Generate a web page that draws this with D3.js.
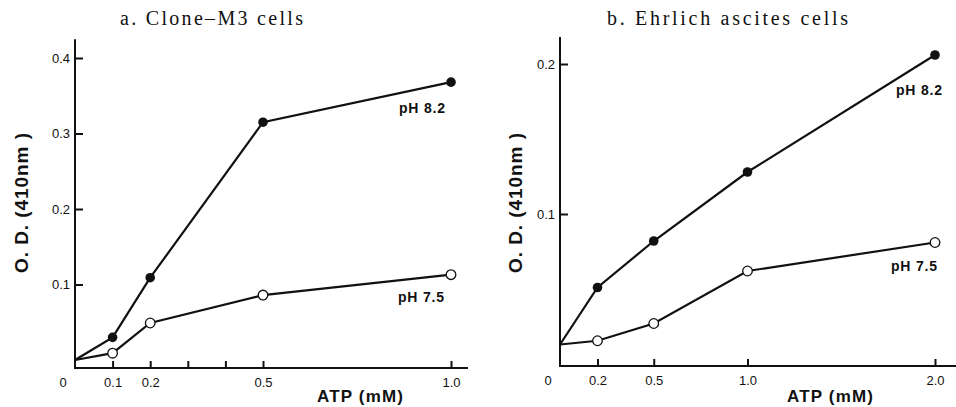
<!DOCTYPE html>
<html>
<head>
<meta charset="utf-8">
<script src="https://cdn.jsdelivr.net/npm/d3@7"></script>
<style>
  body { margin: 0; background: #fff; }
  svg { display: block; }
  .tick text { font-family: "Liberation Sans", Arial, sans-serif; font-size: 13px; fill: #111; }
</style>
</head>
<body>
<div class="d3graph"></div>
<script>
// panel a: Clone-M3 cells
var atpA = [0, 0.1, 0.2, 0.5, 1.0];
var ph82A = [0, 0.030, 0.109, 0.315, 0.368];
var ph75A = [0, 0.009, 0.049, 0.086, 0.113];
var xTicksA = [0.1, 0.2, 0.3, 0.4, 0.5, 1.0];
var xLabelsA = ["0.1", "0.2", "", "", "0.5", "1.0"];
var yTicksA = [0.1, 0.2, 0.3, 0.4];

// panel b: Ehrlich ascites cells
var atpB = [0, 0.2, 0.5, 1.0, 2.0];
var ph82B = [0.013, 0.051, 0.082, 0.128, 0.206];
var ph75B = [0.013, 0.0155, 0.027, 0.062, 0.081];
var xTicksB = [0.2, 0.5, 1.0, 2.0];
var xLabelsB = ["0.2", "0.5", "1.0", "2.0"];
var yTicksB = [0.1, 0.2];

var W = 956, H = 407;
var svg = d3.select('.d3graph').append('svg')
  .attr('width', W)
  .attr('height', H);

var panels = [
  {
    title: "a. Clone\u2013M3 cells", titleX: 120, titleW: 183,
    atp: atpA, hi: ph82A, lo: ph75A,
    xTicks: xTicksA, xLabels: xLabelsA, yTicks: yTicksA,
    x: d3.scaleLinear().domain([0, 1]).range([75, 451]),
    y: d3.scaleLinear().domain([0, 0.4]).range([360, 58]),
    xEnd: 1.045, yTop: 0.425, yBottom: -0.0106,
    yLabX: 21, xLabX: 317,
    hiLab: [445, 113], loLab: [444, 302]
  },
  {
    title: "b. Ehrlich ascites cells", titleX: 607, titleW: 241,
    atp: atpB, hi: ph82B, lo: ph75B,
    xTicks: xTicksB, xLabels: xLabelsB, yTicks: yTicksB,
    x: d3.scaleLinear().domain([0, 2]).range([560, 935]),
    y: d3.scaleLinear().domain([0, 0.2]).range([364, 64]),
    xEnd: 2.12, yTop: 0.218, yBottom: -0.0013,
    yLabX: 515, xLabX: 787,
    hiLab: [942, 95], loLab: [937, 271]
  }
];

panels.forEach(function(p) {
  var g = svg.append("g");
  var x = p.x, y = p.y;

  // title
  g.append("text")
    .attr("x", p.titleX)
    .attr("y", 25)
    .attr("textLength", p.titleW)
    .attr("lengthAdjust", "spacing")
    .style("font-family", "'Liberation Serif', 'DejaVu Serif', serif")
    .style("font-size", "20px")
    .style("fill", "#111")
    .text(p.title);

  // Y axis
  var ya = g.append("g")
    .attr("transform", "translate(" + x(0) + ",0)")
    .call(d3.axisLeft(y).tickValues(p.yTicks).tickSize(-8).tickPadding(5)
      .tickFormat(d3.format(".1f")));
  ya.select(".domain").remove();
  ya.selectAll(".tick line").attr("stroke", "#111").attr("stroke-width", 2);

  // X axis
  var xa = g.append("g")
    .attr("transform", "translate(0," + y(p.yBottom) + ")")
    .call(d3.axisBottom(x).tickValues(p.xTicks).tickSize(-7).tickPadding(10)
      .tickFormat(function(d, i) { return p.xLabels[i]; }));
  xa.select(".domain").remove();
  xa.selectAll(".tick line").attr("stroke", "#111").attr("stroke-width", 2);

  // axis lines
  g.append("line")
    .attr("x1", x(0)).attr("x2", x(0))
    .attr("y1", y(p.yTop)).attr("y2", y(p.yBottom) + 1)
    .attr("stroke", "#111").attr("stroke-width", 2);
  g.append("line")
    .attr("x1", x(0)).attr("x2", x(p.xEnd))
    .attr("y1", y(p.yBottom)).attr("y2", y(p.yBottom))
    .attr("stroke", "#111").attr("stroke-width", 2);

  // "0" at origin
  g.append("text")
    .attr("x", x(0) - 12)
    .attr("y", y(p.yBottom) + 19)
    .attr("text-anchor", "middle")
    .style("font-family", "'Liberation Sans', Arial, sans-serif")
    .style("font-size", "13px")
    .style("fill", "#111")
    .text("0");

  // axis titles
  g.append("text")
    .attr("transform", "translate(" + (p.yLabX + 7) + ",273) rotate(-90)")
    .attr("textLength", 140)
    .attr("lengthAdjust", "spacing")
    .style("font-family", "'Liberation Sans', Arial, sans-serif")
    .style("font-weight", "bold")
    .style("font-size", "19px")
    .style("fill", "#111")
    .text("O. D. (410nm )");

  g.append("text")
    .attr("x", p.xLabX)
    .attr("y", 402)
    .attr("textLength", 86)
    .attr("lengthAdjust", "spacing")
    .style("font-family", "'Liberation Sans', Arial, sans-serif")
    .style("font-weight", "bold")
    .style("font-size", "17px")
    .style("fill", "#111")
    .text("ATP (mM)");

  // lines
  var line = d3.line()
    .x(function(d, i) { return x(p.atp[i]); })
    .y(function(d) { return y(d); });

  [p.hi, p.lo].forEach(function(s) {
    g.append("path")
      .datum(s)
      .attr("d", line)
      .attr("fill", "none")
      .attr("stroke", "#111")
      .attr("stroke-width", 2.2);
  });

  // points (skip origin)
  g.selectAll(".dot-hi")
    .data(p.hi.slice(1))
    .enter().append("circle")
    .attr("class", "dot-hi")
    .attr("cx", function(d, i) { return x(p.atp[i + 1]); })
    .attr("cy", function(d) { return y(d); })
    .attr("r", 4.8)
    .attr("fill", "#111");

  g.selectAll(".dot-lo")
    .data(p.lo.slice(1))
    .enter().append("circle")
    .attr("class", "dot-lo")
    .attr("cx", function(d, i) { return x(p.atp[i + 1]); })
    .attr("cy", function(d) { return y(d); })
    .attr("r", 4.8)
    .attr("fill", "#fff")
    .attr("stroke", "#111")
    .attr("stroke-width", 1.3);

  // series labels
  [[p.hiLab, "pH 8.2"], [p.loLab, "pH 7.5"]].forEach(function(l) {
    g.append("text")
      .attr("x", l[0][0] - 46)
      .attr("y", l[0][1])
      .attr("textLength", 46)
      .attr("lengthAdjust", "spacing")
      .style("font-family", "'Liberation Sans', Arial, sans-serif")
      .style("font-weight", "bold")
      .style("font-size", "14px")
      .style("fill", "#111")
      .text(l[1]);
  });
});
</script>
</body>
</html>
